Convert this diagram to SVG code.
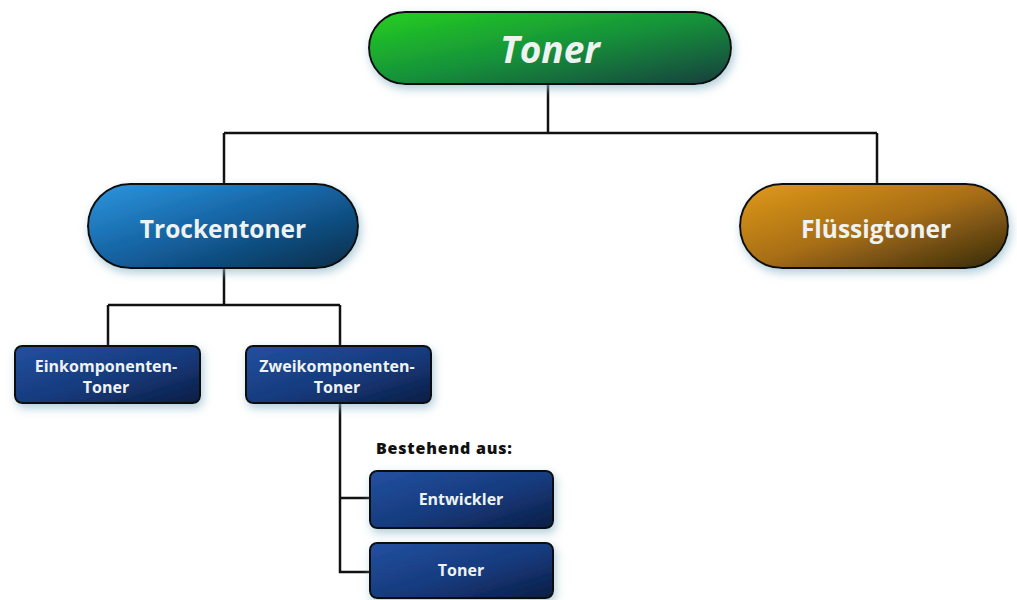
<svg xmlns="http://www.w3.org/2000/svg" width="1017" height="600" viewBox="0 0 1017 600">
  <defs>
    <linearGradient id="gGreen" x1="0" y1="0" x2="1" y2="1">
      <stop offset="0" stop-color="#25d020"/>
      <stop offset="0.5" stop-color="#16923a"/>
      <stop offset="1" stop-color="#163e3e"/>
    </linearGradient>
    <linearGradient id="gBlue" x1="0" y1="0" x2="1" y2="1">
      <stop offset="0" stop-color="#2e96e0"/>
      <stop offset="0.5" stop-color="#13609e"/>
      <stop offset="1" stop-color="#0c2c48"/>
    </linearGradient>
    <linearGradient id="gOrange" x1="0" y1="0" x2="1" y2="1">
      <stop offset="0" stop-color="#e09a1c"/>
      <stop offset="0.5" stop-color="#a86e14"/>
      <stop offset="1" stop-color="#33290f"/>
    </linearGradient>
    <linearGradient id="gNavy" x1="0" y1="0" x2="1" y2="1">
      <stop offset="0" stop-color="#2350a0"/>
      <stop offset="0.55" stop-color="#163a7c"/>
      <stop offset="1" stop-color="#0c1d44"/>
    </linearGradient>
    <filter id="glow" x="-20%" y="-30%" width="140%" height="170%">
      <feDropShadow dx="2" dy="4" stdDeviation="5" flood-color="#8fb8c8" flood-opacity="0.7"/>
    </filter>
  </defs>
  <style>
    .edge { fill: none; stroke: #111; stroke-width: 2.5; }
    .box { stroke: #111; stroke-width: 2; filter: url(#glow); }
    .lbl { font-family: "Open Sans", "Noto Sans", sans-serif; font-weight: 700; fill: #eef3f2; text-anchor: middle; }
    .big { font-size: 24.5px; }
    .small { font-size: 16px; }
  </style>
  <rect width="1017" height="600" fill="#ffffff"/>

  <g id="connectors">
    <path class="edge" d="M548 84 V133 M224 133 H877 M224 133 V185 M877 133 V185"/>
    <path class="edge" d="M224 268 V305 M108 305 H340 M108 305 V347 M340 305 V347"/>
    <path class="edge" d="M340 403 V572 H370 M340 498 H370"/>
  </g>

  <g id="node-toner">
    <rect class="box" x="369" y="12" width="362" height="72" rx="36" fill="url(#gGreen)"/>
    <text class="lbl" x="550" y="63" font-size="37" font-style="italic">Toner</text>
  </g>

  <g id="node-trockentoner">
    <rect class="box" x="88" y="184" width="270" height="84" rx="42" fill="url(#gBlue)"/>
    <text class="lbl big" x="223" y="238">Trockentoner</text>
  </g>

  <g id="node-fluessigtoner">
    <rect class="box" x="740" y="184" width="268" height="84" rx="42" fill="url(#gOrange)"/>
    <text class="lbl big" x="876" y="238">Flüssigtoner</text>
  </g>

  <g id="node-einkomponenten">
    <rect class="box" x="15" y="346" width="185" height="57" rx="7" fill="url(#gNavy)"/>
    <text class="lbl small" x="106" y="372">Einkomponenten-</text>
    <text class="lbl small" x="106" y="393">Toner</text>
  </g>

  <g id="node-zweikomponenten">
    <rect class="box" x="246" y="346" width="185" height="57" rx="7" fill="url(#gNavy)"/>
    <text class="lbl small" x="337" y="372">Zweikomponenten-</text>
    <text class="lbl small" x="337" y="393">Toner</text>
  </g>

  <text x="376" y="454" font-family="Open Sans, Noto Sans, sans-serif" font-weight="800" font-size="16" letter-spacing="0.8" fill="#111">Bestehend aus:</text>

  <g id="node-entwickler">
    <rect class="box" x="370" y="471" width="183" height="57" rx="7" fill="url(#gNavy)"/>
    <text class="lbl small" x="461" y="505">Entwickler</text>
  </g>

  <g id="node-toner-part">
    <rect class="box" x="370" y="543" width="183" height="55" rx="7" fill="url(#gNavy)"/>
    <text class="lbl small" x="461" y="576">Toner</text>
  </g>
</svg>
